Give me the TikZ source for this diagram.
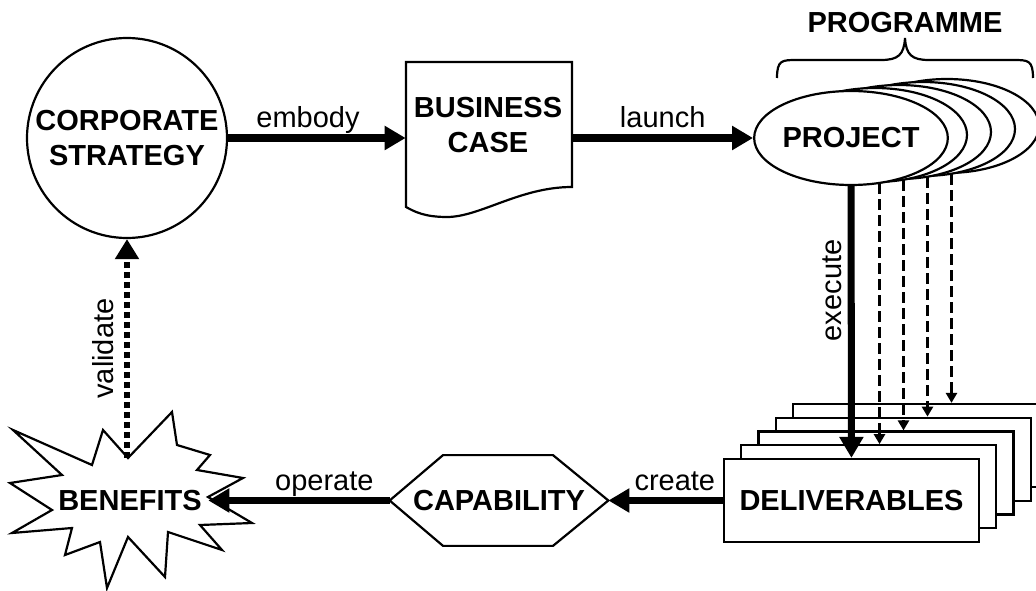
\documentclass[tikz,border=0pt]{standalone}
\usepackage{fontspec}
\setmainfont{Liberation Sans}
\usetikzlibrary{arrows.meta,shapes.geometric,calc}

\begin{document}
\begin{tikzpicture}[
  bigtext/.style={font=\fontsize{16.5}{20}\selectfont\bfseries, align=center},
  lbl/.style={font=\fontsize{16.5}{20}\selectfont, inner sep=1.5pt, text depth=0.22em},
  outline/.style={line width=1.25pt},
  projell/.style={ellipse, draw, outline, fill=white, minimum width=3.68cm, minimum height=1.88cm, inner sep=0pt},
  delbox/.style={rectangle, draw, outline, fill=white, minimum width=5.1cm, minimum height=1.66cm, inner sep=0pt},
  flow/.style={line width=4pt, -{Triangle[length=0.42cm,width=0.46cm]}},
  dashflow/.style={line width=1.4pt, dash pattern=on 0.22cm off 0.1cm, -{Triangle[length=0.2cm,width=0.22cm]}},
  dotflow/.style={line width=3.4pt, dash pattern=on 0.12cm off 0.08cm, -{Triangle[length=0.4cm,width=0.46cm]}}
]
  \useasboundingbox (0,0) rectangle (20.72,11.8);
  \clip (0,0) rectangle (20.72,11.8);
  %--- Corporate strategy
  \node[circle, draw, outline, fill=white, minimum size=4cm, inner sep=0pt, bigtext] (corp) at (2.54,9.04) {CORPORATE\\STRATEGY};
  %--- Business case
  \node[minimum width=3.32cm, minimum height=3.08cm, inner sep=0pt] (bcase) at (9.78,9.04) {};
  \draw[outline] (8.12,10.56) -- (11.44,10.56) -- (11.44,8.06)
    .. controls (10.4,8.06) and (9.6,7.46) .. (8.94,7.46)
    .. controls (8.5,7.46) and (8.3,7.56) .. (8.12,7.66) -- cycle;
  \node[bigtext] (bcasetxt) at (9.76,9.3) {BUSINESS\\CASE};
  %--- Programme
  \node[projell] (proj4) at (18.94,9.28) {};
  \node[projell] (proj3) at (18.46,9.22) {};
  \node[projell] (proj2) at (17.98,9.16) {};
  \node[projell] (proj1) at (17.50,9.10) {};
  \node[projell, bigtext] (proj) at (17.02,9.04) {PROJECT};
  \draw[outline] (15.54,10.24) .. controls (15.54,10.6) and (15.64,10.6) .. (15.94,10.6)
    -- (17.62,10.6) .. controls (17.96,10.6) and (18.08,10.7) .. (18.1,11.04)
    .. controls (18.12,10.7) and (18.24,10.6) .. (18.58,10.6)
    -- (20.26,10.6) .. controls (20.56,10.6) and (20.66,10.6) .. (20.66,10.24);
  \node[bigtext] (prog) at (18.1,11.34) {PROGRAMME};
  %--- Deliverables
  \node[delbox] (del4) at (18.41,2.89) {};
  \node[delbox] (del3) at (18.065,2.615) {};
  \node[delbox] (del2) at (17.72,2.34) {};
  \node[delbox] (del1) at (17.375,2.065) {};
  \node[delbox, bigtext] (del) at (17.03,1.79) {DELIVERABLES};
  %--- Capability
  \node[minimum width=4.36cm, minimum height=1.8cm, inner sep=0pt, bigtext] (cap) at (9.98,1.79) {CAPABILITY};
  \draw[outline] (cap.west) -- ($(cap.north)+(-1.12,0)$) -- ($(cap.north)+(1.08,0)$) -- (cap.east)
    -- ($(cap.south)+(1.08,0)$) -- ($(cap.south)+(-1.12,0)$) -- cycle;
  %--- Benefits
  \draw[outline, fill=white] (0.26,3.20) -- (1.84,2.50) -- (2.06,3.20) -- (2.56,2.64) -- (3.44,3.56)
    -- (3.54,2.90) -- (4.20,2.70) -- (3.94,2.40) -- (4.86,2.24) -- (4.16,1.86) -- (5.04,1.34)
    -- (4.00,1.30) -- (4.44,0.80) -- (3.36,1.16) -- (3.30,0.26) -- (2.56,1.06) -- (2.14,0.04)
    -- (2.00,0.96) -- (1.30,0.70) -- (1.44,1.24) -- (0.24,1.14) -- (1.04,1.60) -- (0.20,2.14)
    -- (1.24,2.30) -- cycle;
  \node[bigtext, minimum width=3.12cm, inner sep=0pt] (ben) at (2.6,1.79) {BENEFITS};
  \coordinate (benv) at (2.54,2.64);
  %--- Arrows
  \draw[flow] (corp) -- (bcase) node[lbl, above, pos=0.45] {embody};
  \draw[flow] (bcase) -- (proj) node[lbl, above, midway] {launch};
  \draw[flow] (proj) -- (del) node[lbl, above=2.5pt, rotate=90, pos=0.4] {execute};
  \draw[dashflow] ([xshift=0.09cm]proj1.south) -- ([xshift=0.09cm]proj1.south |- del1.north);
  \draw[dashflow] ([xshift=0.09cm]proj2.south) -- ([xshift=0.09cm]proj2.south |- del2.north);
  \draw[dashflow] ([xshift=0.09cm]proj3.south) -- ([xshift=0.09cm]proj3.south |- del3.north);
  \draw[dashflow] ([xshift=0.09cm]proj4.south) -- ([xshift=0.09cm]proj4.south |- del4.north);
  \draw[flow] (del) -- (cap) node[lbl, above, pos=0.42] {create};
  \draw[flow] (cap) -- (ben) node[lbl, above, pos=0.36] {operate};
  \draw[dotflow] (benv) -- (corp) node[lbl, above=2.5pt, sloped, midway] {validate};
\end{tikzpicture}
\end{document}
